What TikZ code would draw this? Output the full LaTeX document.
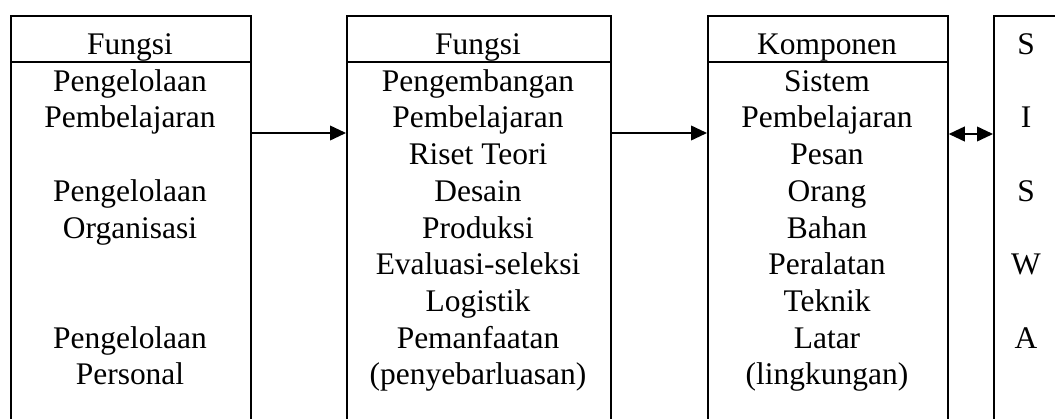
\documentclass[tikz,border=0pt]{standalone}
\usepackage{fontspec}
\setmainfont{Liberation Serif}
\usetikzlibrary{arrows.meta}
\tikzset{
  box/.style={draw, line width=1.3pt, inner sep=0pt, anchor=north west, minimum height=318.75pt},
  txt/.style={anchor=base, inner sep=0pt, font=\fontsize{23.6pt}{27.5pt}\selectfont},
  arr/.style={line width=1.3pt, -{Triangle[length=12pt,width=11pt]}},
  darr/.style={line width=1.3pt, {Triangle[length=12pt,width=11pt]}-{Triangle[length=12pt,width=11pt]}},
  sep/.style={line width=1.3pt}
}
\begin{document}
\begin{tikzpicture}[x=0.75pt,y=-0.75pt]
\useasboundingbox (0,0) rectangle (1055,418);
\clip (0,0) rectangle (1055,418);
\fill[white] (0,0) rectangle (1055,418);
% boxes
\node[box, minimum width=180pt] (b1) at (10,15) {};
\node[box, minimum width=198pt] (b2) at (346,15) {};
\node[box, minimum width=180pt] (b3) at (707,15) {};
\node[box, minimum width=55pt] (b4) at (993,15) {};
% header separators
\coordinate (hy) at (0,62);
\draw[sep] (b1.west |- hy) -- (b1.east |- hy);
\draw[sep] (b2.west |- hy) -- (b2.east |- hy);
\draw[sep] (b3.west |- hy) -- (b3.east |- hy);
% arrows
\coordinate (ay) at (0,133);
\coordinate (dy) at (0,134);
\draw[arr] (b1.east |- ay) -- (b2.west |- ay);
\draw[arr] (b2.east |- ay) -- (b3.west |- ay);
\draw[darr] (b3.east |- dy) -- (b4.west |- dy);
% box 1
\node[txt] (a0) at (130,54.5) {Fungsi};
\node[txt] (a1) at (130,91.2) {Pengelolaan};
\node[txt] (a2) at (130,127.9) {Pembelajaran};
\node[txt] (a4) at (130,201.3) {Pengelolaan};
\node[txt] (a5) at (130,238) {Organisasi};
\node[txt] (a8) at (130,348.1) {Pengelolaan};
\node[txt] (a9) at (130,384.8) {Personal};
% box 2
\node[txt] (c0) at (478,54.5) {Fungsi};
\node[txt] (c1) at (478,91.2) {Pengembangan};
\node[txt] (c2) at (478,127.9) {Pembelajaran};
\node[txt] (c3) at (478,164.6) {Riset Teori};
\node[txt] (c4) at (478,201.3) {Desain};
\node[txt] (c5) at (478,238) {Produksi};
\node[txt] (c6) at (478,274.7) {Evaluasi-seleksi};
\node[txt] (c7) at (478,311.4) {Logistik};
\node[txt] (c8) at (478,348.1) {Pemanfaatan};
\node[txt] (c9) at (478,384.8) {(penyebarluasan)};
% box 3
\node[txt] (d0) at (827,54.5) {Komponen};
\node[txt] (d1) at (827,91.2) {Sistem};
\node[txt] (d2) at (827,127.9) {Pembelajaran};
\node[txt] (d3) at (827,164.6) {Pesan};
\node[txt] (d4) at (827,201.3) {Orang};
\node[txt] (d5) at (827,238) {Bahan};
\node[txt] (d6) at (827,274.7) {Peralatan};
\node[txt] (d7) at (827,311.4) {Teknik};
\node[txt] (d8) at (827,348.1) {Latar};
\node[txt] (d9) at (827,384.8) {(lingkungan)};
% box 4
\node[txt] (e0) at (1026,54.5) {S};
\node[txt] (e2) at (1026,127.9) {I};
\node[txt] (e4) at (1026,201.3) {S};
\node[txt] (e6) at (1026,274.7) {W};
\node[txt] (e8) at (1026,348.1) {A};
\end{tikzpicture}
\end{document}
